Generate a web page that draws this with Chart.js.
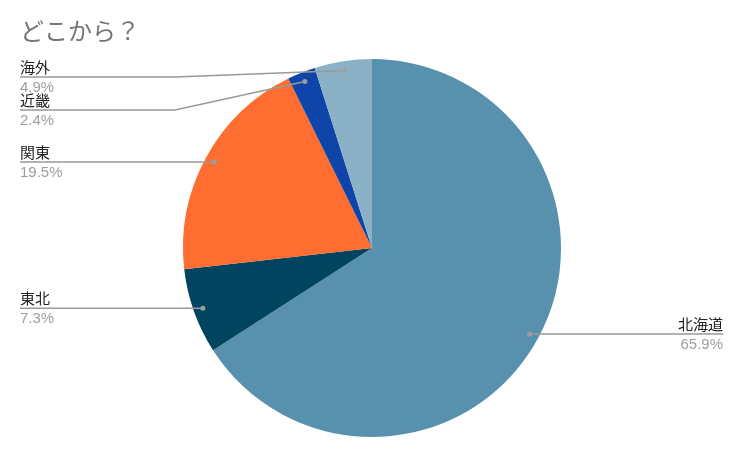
<!DOCTYPE html>
<html>
<head>
<meta charset="utf-8">
<script src="https://cdn.jsdelivr.net/npm/chart.js@4"></script>
<style>
  body { margin: 0; background: #fff; }
  #wrap { width: 746px; height: 454px; }
</style>
</head>
<body>
<div id="wrap"><canvas id="regionChart" width="746" height="454"></canvas></div>
<script>
const chartTitle = 'どこから？';
const labels = ['北海道', '東北', '関東', '近畿', '海外'];
const values = [65.9, 7.3, 19.5, 2.4, 4.9];
const colors = ['#5891ad', '#00445f', '#ff6d31', '#0f45a8', '#8bb1c7'];

const fontFamily = '"Liberation Sans", Arial, "Noto Sans CJK JP", sans-serif';

// draws the title and the leader-line labels
const labelPlugin = {
  id: 'leaderLabels',
  afterDraw(chart) {
    const { ctx } = chart;
    const meta = chart.getDatasetMeta(0);
    const total = values.reduce((a, b) => a + b, 0);

    ctx.save();
    ctx.fillStyle = '#757575';
    ctx.font = `24px ${fontFamily}`;
    ctx.textBaseline = 'alphabetic';
    ctx.textAlign = 'left';
    ctx.fillText(chartTitle, 20, 40);

    const items = meta.data.map((arc, i) => {
      const mid = (arc.startAngle + arc.endAngle) / 2;
      const r = arc.outerRadius * 0.95;
      const px = arc.x + Math.cos(mid) * r;
      const py = arc.y + Math.sin(mid) * r;
      return { i, px, py, ly: py, left: px < arc.x };
    });

    // simple stacking on the left side so labels don't overlap
    const leftItems = items.filter((d) => d.left).sort((a, b) => a.py - b.py);
    let minY = 77;
    leftItems.forEach((d) => {
      d.ly = Math.max(d.py, minY);
      minY = d.ly + 33;
    });

    items.forEach((d) => {
      const pct = `${((values[d.i] / total) * 100).toFixed(1)}%`;
      const edgeX = d.left ? 20 : 723;
      const elbowX = d.left ? 175 : 560;

      ctx.strokeStyle = '#999999';
      ctx.lineWidth = 1.5;
      ctx.beginPath();
      ctx.moveTo(edgeX, d.ly);
      if (Math.abs(d.ly - d.py) > 0.5) {
        ctx.lineTo(elbowX, d.ly);
      }
      ctx.lineTo(d.px, d.py);
      ctx.stroke();

      ctx.fillStyle = '#9e9e9e';
      ctx.beginPath();
      ctx.arc(d.px, d.py, 2.5, 0, Math.PI * 2);
      ctx.fill();

      ctx.textAlign = d.left ? 'left' : 'right';
      ctx.font = `15px ${fontFamily}`;
      ctx.fillStyle = '#222222';
      ctx.textBaseline = 'alphabetic';
      ctx.fillText(labels[d.i], edgeX, d.ly - 4);
      ctx.fillStyle = '#9e9e9e';
      ctx.textBaseline = 'top';
      ctx.fillText(pct, edgeX, d.ly + 3);
    });
    ctx.restore();
  },
};

document.addEventListener('DOMContentLoaded', () => {
  const ctx = document.getElementById('regionChart');
  // eslint-disable-next-line no-unused-vars,no-undef
  const regionChart = new Chart(ctx, {
    type: 'pie',
    data: {
      labels,
      datasets: [{
        data: values,
        backgroundColor: colors,
        borderWidth: 0,
      }],
    },
    options: {
      responsive: false,
      animation: false,
      layout: {
        padding: { left: 183, right: 185, top: 59, bottom: 17 },
      },
      plugins: {
        legend: { display: false },
        tooltip: { enabled: false },
        title: { display: false },
      },
    },
    plugins: [labelPlugin],
  });
});
</script>
</body>
</html>
